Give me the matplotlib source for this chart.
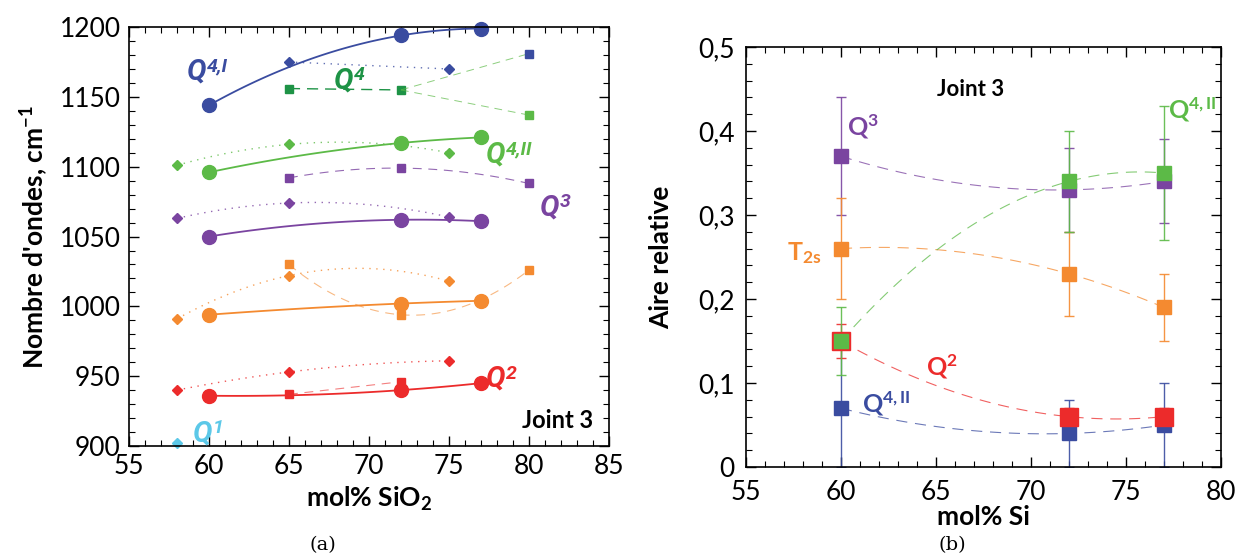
import numpy as np
import matplotlib
matplotlib.use("Agg")
import matplotlib.pyplot as plt
from matplotlib.ticker import MultipleLocator, FixedLocator, FixedFormatter

plt.rcParams['font.family'] = ['Lato', 'DejaVu Sans']
plt.rcParams['mathtext.fontset'] = 'custom'
plt.rcParams['mathtext.rm'] = 'Lato'
plt.rcParams['mathtext.it'] = 'Roboto:italic:bold'
plt.rcParams['mathtext.bf'] = 'Lato:bold'

# ---------------- Panel (a) data ----------------
a_circ_x = [60, 72, 77]
q4I_circ = [1144, 1194, 1199]
q4II_circ = [1096, 1117, 1121]
q3_circ = [1050, 1062, 1061]
t2s_circ = [994, 1002, 1004]
q2_circ = [936, 940, 945]

a_diam_x = [58, 65, 75]
q4I_diam_x = [65, 75]
q4I_diam = [1175, 1170]
q4II_diam = [1101, 1116, 1110]
q3_diam = [1063, 1074, 1064]
t2s_diam = [991, 1022, 1018]
q2_diam = [940, 953, 961]
q1_diam_x = [58]
q1_diam = [902]

q4_sq_x = [65, 72]
q4_sq = [1156, 1155]
q4_branch_x = [72, 80]
q4_branch_up = [1155, 1181]
q4_branch_low = [1155, 1137]
sq3_x = [65, 72, 80]
q3_sq = [1092, 1099, 1088]
t2s_sq = [1030, 994, 1026]
q2_sq_x = [65, 72]
q2_sq = [937, 946]

# ---------------- Panel (b) data ----------------
b_x = [60, 72, 77]
b_q3 = [0.37, 0.33, 0.34]
b_q3_err = [0.07, 0.05, 0.05]
b_q4II = [0.15, 0.34, 0.35]
b_q4II_err = [0.04, 0.06, 0.08]
b_t2s = [0.26, 0.23, 0.19]
b_t2s_err = [0.06, 0.05, 0.04]
b_q2 = [0.15, 0.06, 0.06]
b_q2_err = [0.02, 0.01, 0.01]
b_q4b = [0.07, 0.04, 0.05]
b_q4b_err = [0.07, 0.04, 0.05]
b_yticks = [0, 0.1, 0.2, 0.3, 0.4, 0.5]
b_yticklabels = ['0', '0,1', '0,2', '0,3', '0,4', '0,5']

C_BLUE = '#3a4ca0'
C_DGREEN = '#1e9346'
C_LGREEN = '#5cba47'
C_PURPLE = '#7a44a0'
C_ORANGE = '#f48a30'
C_RED = '#ec2b2b'
C_CYAN = '#5cc8e8'

fig = plt.figure(figsize=(12.46, 5.6), dpi=100)
axa = fig.add_axes([0.1035, 0.2036, 0.3852, 0.748])
axb = fig.add_axes([0.5987, 0.166, 0.3812, 0.75])


def curve(ax, xs, ys, color, ls, lw, alpha=1.0, deg=None):
    xs = np.asarray(xs, float)
    ys = np.asarray(ys, float)
    if deg is None:
        deg = min(2, len(xs) - 1)
    p = np.polyfit(xs, ys, deg)
    xx = np.linspace(xs.min(), xs.max(), 100)
    ax.plot(xx, np.polyval(p, xx), color=color, ls=ls, lw=lw, alpha=alpha)


def qlabel(ax, x, y, sup, color):
    kw = dict(family='Roboto', fontstyle='italic', fontweight='bold', color=color)
    t = ax.text(x, y, 'Q', fontsize=21, ha='center', va='center', **kw)
    ax.annotate(sup, xy=(1, 1), xycoords=t, xytext=(0.5, 0), textcoords='offset points',
                ha='left', va='top', fontsize=14, **kw)


# ---- panel (a) curves ----
for ys, c in [(q4I_circ, C_BLUE), (q4II_circ, C_LGREEN), (q3_circ, C_PURPLE),
              (t2s_circ, C_ORANGE), (q2_circ, C_RED)]:
    curve(axa, a_circ_x, ys, c, '-', 1.3)
    axa.plot(a_circ_x, ys, 'o', color=c, ms=10, ls='none', clip_on=False)

for xs, ys, c in [(q4I_diam_x, q4I_diam, C_BLUE), (a_diam_x, q4II_diam, C_LGREEN),
                  (a_diam_x, q3_diam, C_PURPLE), (a_diam_x, t2s_diam, C_ORANGE),
                  (a_diam_x, q2_diam, C_RED)]:
    curve(axa, xs, ys, c, (0, (1, 4)), 1.0, 0.8)
    axa.plot(xs, ys, 'D', color=c, ms=5.5, ls='none')
axa.plot(q1_diam_x, q1_diam, 'D', color=C_CYAN, ms=5.5, ls='none', clip_on=False)

curve(axa, q4_sq_x, q4_sq, C_DGREEN, (0, (8, 5)), 1.0)
axa.plot(q4_sq_x, q4_sq, 's', color=C_DGREEN, ms=6, ls='none')
curve(axa, q4_branch_x, q4_branch_up, C_LGREEN, (0, (8, 6)), 0.7, 0.7)
curve(axa, q4_branch_x, q4_branch_low, C_LGREEN, (0, (8, 6)), 0.7, 0.7)
axa.plot([q4_branch_x[1]], [q4_branch_up[1]], 's', color=C_BLUE, ms=6, ls='none')
axa.plot([q4_branch_x[1]], [q4_branch_low[1]], 's', color=C_LGREEN, ms=6, ls='none')

curve(axa, sq3_x, q3_sq, C_PURPLE, (0, (8, 6)), 0.8, 0.8)
axa.plot(sq3_x, q3_sq, 's', color=C_PURPLE, ms=6, ls='none')
curve(axa, sq3_x, t2s_sq, C_ORANGE, (0, (8, 6)), 0.8, 0.6)
axa.plot(sq3_x, t2s_sq, 's', color=C_ORANGE, ms=6, ls='none')
curve(axa, q2_sq_x, q2_sq, C_RED, (0, (8, 6)), 0.8, 0.6)
axa.plot(q2_sq_x, q2_sq, 's', color=C_RED, ms=6, ls='none')

axa.set_xlim(55, 85)
axa.set_ylim(900, 1200)
axa.xaxis.set_major_locator(MultipleLocator(5))
axa.xaxis.set_minor_locator(MultipleLocator(1))
axa.yaxis.set_major_locator(MultipleLocator(50))
axa.yaxis.set_minor_locator(MultipleLocator(10))
axa.set_xlabel(r'mol% SiO$_\mathbf{2}$', fontsize=19, fontweight='bold', labelpad=4)
axa.set_ylabel(r"Nombre d'ondes, cm$^\mathbf{-1}$", fontsize=19, fontweight='bold', labelpad=6)

qlabel(axa, 59.2, 1168, '4,I', C_BLUE)
qlabel(axa, 68.4, 1162, '4', C_DGREEN)
qlabel(axa, 77.9, 1109, '4,II', C_LGREEN)
qlabel(axa, 81.3, 1071, '3', C_PURPLE)
qlabel(axa, 77.9, 948, '2', C_RED)
qlabel(axa, 59.6, 909, '1', C_CYAN)
axa.text(84.0, 918, 'Joint 3', fontsize=17, fontweight='bold', ha='right', va='center')

# ---- panel (b) ----
series_b = [
    (b_q3, b_q3_err, C_PURPLE, 10),
    (b_t2s, b_t2s_err, C_ORANGE, 10),
    (b_q4b, b_q4b_err, C_BLUE, 10),
    (b_q2, b_q2_err, C_RED, 13),
    (b_q4II, b_q4II_err, C_LGREEN, 10),
]
for ys, es, c, ms in series_b:
    curve(axb, b_x, ys, c, (0, (10, 7)), 0.8, 0.75)
for ys, es, c, ms in series_b:
    axb.errorbar(b_x, ys, yerr=es, fmt='none', ecolor=c, elinewidth=1.0,
                 capsize=3.5, capthick=1.0, alpha=0.9)
for ys, es, c, ms in series_b:
    if c == C_LGREEN:
        axb.plot(b_x, ys, 's', color=c, ms=10, ls='none', zorder=5)
    else:
        axb.plot(b_x, ys, 's', color=c, ms=ms, ls='none', zorder=4)

axb.set_xlim(55, 80)
axb.set_ylim(0, 0.5)
axb.xaxis.set_major_locator(MultipleLocator(5))
axb.xaxis.set_minor_locator(MultipleLocator(1))
axb.yaxis.set_major_locator(FixedLocator(b_yticks))
axb.yaxis.set_major_formatter(FixedFormatter(b_yticklabels))
axb.yaxis.set_minor_locator(MultipleLocator(0.02))
axb.set_xlabel('mol% Si', fontsize=19, fontweight='bold', labelpad=0)
axb.set_ylabel('Aire relative', fontsize=19, fontweight='bold', labelpad=18)

axb.text(66.8, 0.45, 'Joint 3', fontsize=16, fontweight='bold', ha='center', va='center')
axb.text(60.3, 0.405, r'$\mathbf{Q^{3}}$', color=C_PURPLE, fontsize=18, ha='left', va='center')
axb.text(77.2, 0.425, r'$\mathbf{Q^{4,II}}$', color=C_LGREEN, fontsize=18, ha='left', va='center')
axb.text(59.0, 0.255, r'$\mathbf{T_{2s}}$', color=C_ORANGE, fontsize=18, ha='right', va='center')
axb.text(65.3, 0.12, r'$\mathbf{Q^{2}}$', color=C_RED, fontsize=18, ha='center', va='center')
axb.text(61.1, 0.075, r'$\mathbf{Q^{4,II}}$', color=C_BLUE, fontsize=18, ha='left', va='center')

for ax in (axa, axb):
    ax.tick_params(which='both', direction='in', top=True, right=True)
    ax.tick_params(which='major', length=7, width=1.0, labelsize=19, pad=6)
    ax.tick_params(which='minor', length=4, width=0.8)
    for s in ax.spines.values():
        s.set_linewidth(1.2)
axb.tick_params(axis='x', which='major', pad=9)
axb.tick_params(axis='y', which='major', pad=8)

fig.text(0.2592, 0.018, '(a)', fontsize=14, family='DejaVu Serif', ha='center')
fig.text(0.764, 0.018, '(b)', fontsize=14, family='DejaVu Serif', ha='center')

fig.savefig('out.png', dpi=100)
